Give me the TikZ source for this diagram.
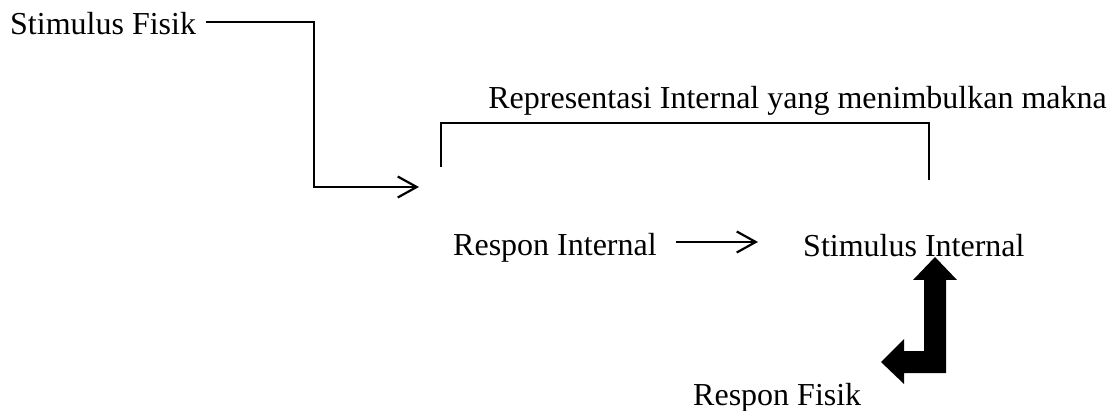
\documentclass[tikz,border=0pt]{standalone}
\usepackage{fontspec}
\setmainfont{Liberation Serif}
\usetikzlibrary{arrows.meta,calc}
\begin{document}
\begin{tikzpicture}[x=1pt,y=1pt,
  lbl/.style={inner sep=0pt,anchor=base west,font=\fontsize{32}{38}\selectfont},
  conn/.style={line width=2.2pt,draw=black},
  opentip/.style={-{Straight Barb[length=19pt,width=21pt,line width=2.2pt]}}]
\useasboundingbox (0,0) rectangle (1113,-411);
% texts
\node[lbl] (sf) at (10,-35) {Stimulus Fisik};
\node[lbl,anchor=base east] (rep) at (1107,-109) {Representasi Internal yang menimbulkan makna};
\node[lbl] (ri) at (453,-256) {Respon Internal};
\node[lbl] (si) at (803,-257) {Stimulus Internal};
\node[lbl] (rf) at (693,-405) {Respon Fisik};
% coordinates
\coordinate (bend) at (314,-187);
\coordinate (rin) at (419,-187);
\coordinate (bl) at (441,-167);
\coordinate (bt) at (929,-123);
\coordinate (br) at (929,-180);
% stimulus fisik connector
\draw[conn,opentip] ([shift={(10pt,13pt)}]sf.base east) -| (bend) -- (rin);
% bracket
\draw[conn] (bl) |- (bt) -- (br);
% respon internal -> stimulus internal
\draw[conn,opentip] ([shift={(19pt,14pt)}]ri.base east) -- ([shift={(-45pt,15pt)}]si.base west);
% thick block arrow between respon fisik and stimulus internal
\fill[black] (935,-257) -- (957,-280) -- (946,-280) -- (946,-373) -- (904,-373)
  -- (904,-384) -- (881,-362) -- (904,-339) -- (904,-351) -- (924,-351)
  -- (924,-280) -- (913,-280) -- cycle;
\end{tikzpicture}
\end{document}
